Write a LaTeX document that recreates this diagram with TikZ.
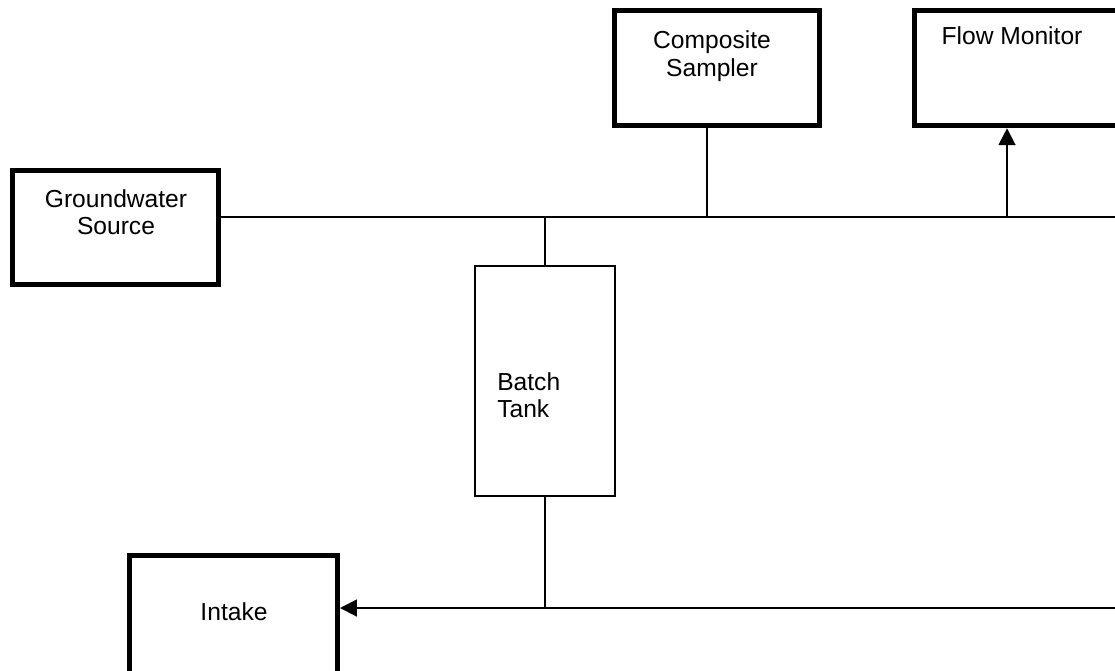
\documentclass[tikz,border=0pt]{standalone}
\usepackage{fontspec}
\setmainfont{Liberation Sans}
\usetikzlibrary{calc,arrows.meta}

\begin{document}
\begin{tikzpicture}[x=0.025cm,y=-0.025cm,
  unit/.style={draw=black,line width=3.5pt,rectangle,inner sep=0pt},
  tankbox/.style={draw=black,line width=1.4pt,rectangle,inner sep=0pt},
  pipe/.style={draw=black,line width=1.4pt},
  feed/.style={draw=black,line width=1.4pt,-{Triangle[length=12pt,width=12pt]}},
  lbl/.style={font=\fontsize{17.5}{19.5}\selectfont,align=center,inner sep=0pt}]
\useasboundingbox (0,0) rectangle (1115,670);
\clip (0,0) rectangle (1115,670);
% units
\node[unit,minimum width=5.15cm,minimum height=2.85cm] (gw) at (115.5,227.5) {};
\node[unit,minimum width=5.14cm,minimum height=2.89cm] (cs) at (717,68) {};
\node[unit,minimum width=5.14cm,minimum height=2.89cm] (fm) at (1017,68) {};
\node[unit,minimum width=5.2cm,minimum height=3cm] (in) at (233.5,615.5) {};
\node[tankbox,minimum width=3.52cm,minimum height=5.75cm] (bt) at (545,381) {};
% labels
\node[lbl] (gwl) at (116,212) {Groundwater\\Source};
\node[lbl] (csl) at (712,56) {Composite\\Sampler};
\node[lbl] (fml) at (1012,36) {Flow Monitor};
\node[lbl] (inl) at (234,612) {Intake};
\node[lbl,align=left,anchor=west] (btl) at (497,395) {Batch\\Tank};
% junctions on the lines
\coordinate (tee1) at (545,217);
\coordinate (tee2) at (707,217);
\coordinate (tee3) at (1007,217);
\coordinate (topR) at (1120,217);
\coordinate (tee4) at (545,608);
\coordinate (botR) at (1120,608);
% piping
\draw[pipe] (gw.east |- tee1) -- (topR);
\draw[pipe] (tee2) -- (tee2 |- cs.south);
\draw[feed] (tee3) -- (tee3 |- fm.south);
\draw[pipe] (tee1) -- (bt.north);
\draw[pipe] (bt.south) -- (tee4);
\draw[feed] (botR) -- (botR -| in.east);
\end{tikzpicture}
\end{document}
